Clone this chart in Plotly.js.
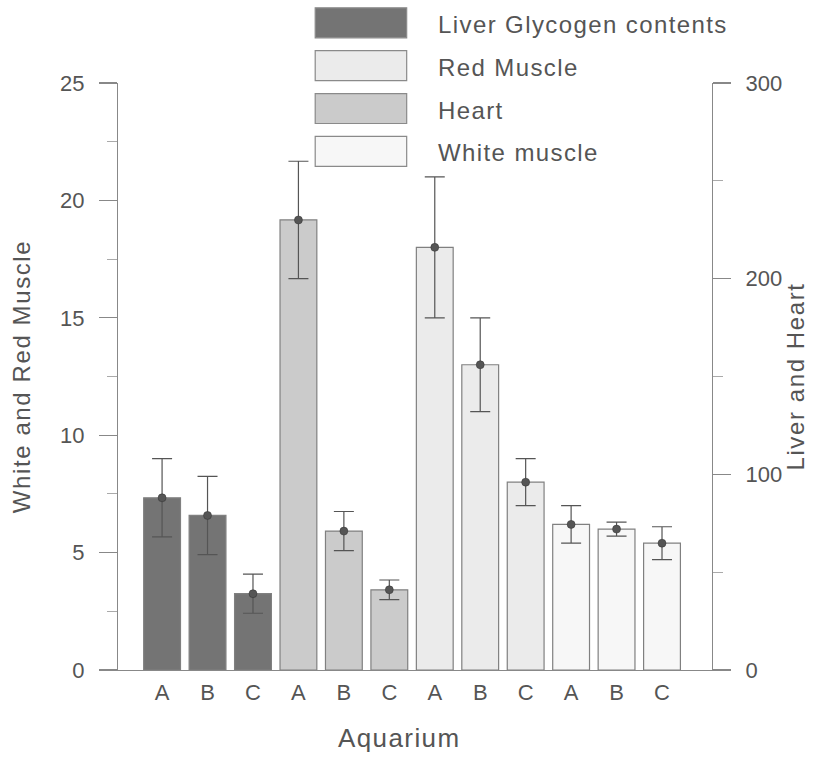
<!DOCTYPE html>
<html>
<head>
<meta charset="utf-8">
<script src="https://cdn.plot.ly/plotly-3.0.1.min.js"></script>
<style>
html,body{margin:0;padding:0;background:#fff;}
#chart{width:835px;height:761px;}
.annotation-text{letter-spacing:1.4px;}
.ytitle,.y2title{letter-spacing:1.6px;}
</style>
</head>
<body>
<div id="chart"></div>
<script>
// Categories
var aquariums = ['A', 'B', 'C'];
var seriesNames = ['Liver Glycogen contents', 'Red Muscle', 'Heart', 'White muscle'];
var xTitle = 'Aquarium';

// Liver and Heart (right axis, 0-300)
var liverMean = [88, 79, 39];
var liverErr  = [20, 20, 10];
var heartMean = [230, 71, 41];
var heartErr  = [30, 10, 5];

// Red and White muscle (left axis, 0-25)
var redMean   = [18.0, 13.0, 8.0];
var redErr    = [3.0, 2.0, 1.0];
var whiteMean = [6.2, 6.0, 5.4];
var whiteErr  = [0.8, 0.3, 0.7];

var colors = {
  liver: '#747474',
  heart: '#cbcbcb',
  red: '#ebebeb',
  white: '#f7f7f7'
};

var groupOrder = [
  {name: seriesNames[0], mean: liverMean, err: liverErr, axis: 'y2', color: colors.liver},
  {name: seriesNames[2], mean: heartMean, err: heartErr, axis: 'y2', color: colors.heart},
  {name: seriesNames[1], mean: redMean, err: redErr, axis: 'y', color: colors.red},
  {name: seriesNames[3], mean: whiteMean, err: whiteErr, axis: 'y', color: colors.white}
];

var tickvals = [], ticktext = [];
var traces = [];
groupOrder.forEach(function (g, gi) {
  var xs = aquariums.map(function (a, i) { return gi * aquariums.length + i; });
  xs.forEach(function (x, i) { tickvals.push(x); ticktext.push(aquariums[i]); });
  traces.push({
    type: 'bar', name: g.name, x: xs, y: g.mean, yaxis: g.axis,
    width: 0.81, showlegend: false,
    marker: {color: g.color, line: {color: '#808080', width: 1.2}},
    hoverinfo: 'skip'
  });
  traces.push({
    type: 'scatter', mode: 'markers', name: g.name + ' mean', x: xs, y: g.mean, yaxis: g.axis,
    showlegend: false,
    marker: {color: '#555', size: 8, line: {color: '#333', width: 0.5}},
    error_y: {type: 'data', array: g.err, visible: true, color: '#555', thickness: 1.2, width: 10}
  });
});

var fam = 'Liberation Sans, Arial, sans-serif';
var txt = '#555';

// Legend drawn with boxes + labels (order as in the reference)
var legendColors = [colors.liver, colors.red, colors.heart, colors.white];
var shapes = [], annotations = [];
var boxTop = [1.128, 1.055, 0.982, 0.909];
seriesNames.forEach(function (n, i) {
  shapes.push({
    type: 'rect', xref: 'paper', yref: 'paper',
    x0: 0.332, x1: 0.486, y0: boxTop[i] - 0.051, y1: boxTop[i],
    fillcolor: legendColors[i], line: {color: '#8a8a8a', width: 1.2}
  });
  annotations.push({
    xref: 'paper', yref: 'paper', x: 0.535, y: boxTop[i] - 0.028,
    xanchor: 'left', yanchor: 'middle', showarrow: false, text: n,
    font: {family: fam, size: 24, color: txt}
  });
});
// x-axis title (placed as in the reference, slightly left of the plot centre)
annotations.push({
  xref: 'paper', yref: 'paper', x: 0.473, y: -0.116,
  xanchor: 'center', yanchor: 'middle', showarrow: false, text: xTitle,
  font: {family: fam, size: 26, color: txt}
});

var layout = {
  width: 835, height: 761,
  margin: {l: 118, r: 123, t: 83, b: 91},
  paper_bgcolor: '#fff', plot_bgcolor: '#fff',
  barmode: 'overlay',
  showlegend: false,
  font: {family: fam, color: txt},
  xaxis: {
    range: [-0.97, 12.1], tickvals: tickvals, ticktext: ticktext,
    showline: true, linecolor: '#888', linewidth: 1.2, ticks: '',
    showgrid: false, zeroline: false,
    ticklabelstandoff: 2,
    tickfont: {family: fam, size: 22, color: txt}
  },
  yaxis: {
    range: [0, 25], dtick: 5, tick0: 0,
    showline: true, linecolor: '#888', linewidth: 1.2,
    ticks: 'outside', ticklen: 18, tickcolor: '#888', tickwidth: 1.2,
    minor: {dtick: 2.5, tick0: 0, ticks: 'outside', ticklen: 10, tickcolor: '#aaa', tickwidth: 1},
    showgrid: false, zeroline: false,
    ticklabelstandoff: 10,
    tickfont: {family: fam, size: 22, color: txt},
    title: {text: 'White and Red Muscle', font: {family: fam, size: 24, color: txt}, standoff: 22}
  },
  yaxis2: {
    range: [0, 300], dtick: 100, tick0: 0,
    overlaying: 'y', side: 'right',
    showline: true, linecolor: '#888', linewidth: 1.2,
    ticks: 'outside', ticklen: 18, tickcolor: '#888', tickwidth: 1.2,
    minor: {dtick: 50, tick0: 0, ticks: 'outside', ticklen: 10, tickcolor: '#aaa', tickwidth: 1},
    showgrid: false, zeroline: false,
    ticklabelstandoff: 10,
    tickfont: {family: fam, size: 22, color: txt},
    title: {text: 'Liver and Heart', font: {family: fam, size: 24, color: txt}, standoff: 4}
  },
  shapes: shapes,
  annotations: annotations
};

Plotly.newPlot('chart', traces, layout, {displayModeBar: false, staticPlot: true});
</script>
</body>
</html>
